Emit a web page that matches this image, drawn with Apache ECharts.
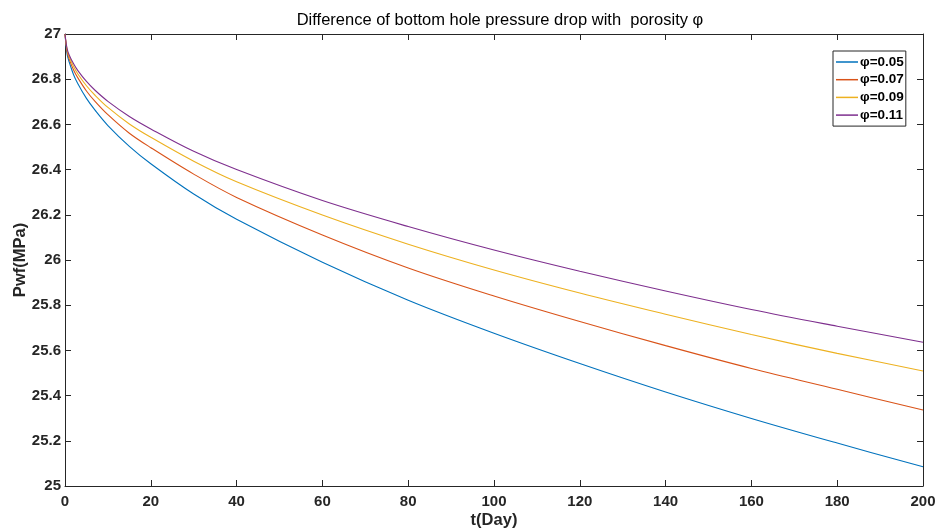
<!DOCTYPE html>
<html>
<head>
<meta charset="utf-8">
<script src="https://cdn.jsdelivr.net/npm/echarts@6/dist/echarts.min.js"></script>
<style>html,body{margin:0;padding:0;background:#fff}#c{width:937px;height:532px}</style>
</head>
<body>
<div id="c"></div>
<script>
const tDays = [0, 0.5, 1, 2, 3, 5, 7, 10, 15, 20, 30, 40, 60, 80, 100, 120, 140, 160, 180, 200];
const seriesNames = ['φ=0.05', 'φ=0.07', 'φ=0.09', 'φ=0.11'];
const phi005 = [27, 26.91, 26.875, 26.82, 26.78, 26.715, 26.663, 26.595, 26.503, 26.426, 26.292, 26.18, 25.99, 25.822, 25.676, 25.542, 25.416, 25.299, 25.19, 25.085];
const phi007 = [27, 26.921, 26.888, 26.841, 26.806, 26.748, 26.702, 26.643, 26.561, 26.497, 26.38, 26.277, 26.111, 25.965, 25.841, 25.728, 25.621, 25.520, 25.428, 25.336];
const phi009 = [27, 26.928, 26.898, 26.856, 26.823, 26.771, 26.729, 26.675, 26.602, 26.543, 26.437, 26.346, 26.199, 26.070, 25.956, 25.854, 25.760, 25.670, 25.587, 25.509];
const phi011 = [27, 26.934, 26.906, 26.868, 26.838, 26.79, 26.751, 26.702, 26.635, 26.58, 26.481, 26.40, 26.263, 26.148, 26.044, 25.950, 25.863, 25.781, 25.707, 25.636];
const xTicks = {min: 0, max: 200, interval: 20};
const yTicks = {min: 25, max: 27, interval: 0.2};
const colors = ['#0072BD', '#D95319', '#EDB120', '#7E2F8E'];

const font = '"Liberation Sans", Arial, Helvetica, sans-serif';
const axisCol = '#262626';
const allSeries = [phi005, phi007, phi009, phi011];

const chart = echarts.init(document.getElementById('c'), null, {renderer: 'canvas'});
const tickLbl = {color: axisCol, fontFamily: font, fontWeight: 'bold', fontSize: 15};
chart.setOption({
  animation: false,
  backgroundColor: '#fff',
  color: colors,
  title: {
    text: 'Difference of bottom hole pressure drop with  porosity φ',
    left: 495, top: 7, textAlign: 'center',
    textStyle: {fontFamily: font, fontSize: 16.5, fontWeight: 'normal', color: '#000'}
  },
  legend: {
    orient: 'vertical', left: 833, top: 51,
    data: seriesNames,
    icon: 'rect', itemWidth: 22, itemHeight: 1.5, itemGap: 3.7,
    backgroundColor: '#fff', borderColor: axisCol, borderWidth: 1,
    padding: [4, 2, 4, 3], borderRadius: 0,
    textStyle: {fontFamily: font, fontWeight: 'bold', fontSize: 13.5, color: '#000', lineHeight: 14, padding: [0,0,0,-3]}
  },
  grid: {left: 65, right: 14, top: 34, bottom: 46, containLabel: false, outerBoundsMode: 'none'},
  xAxis: [{
    type: 'value', min: xTicks.min, max: xTicks.max, interval: xTicks.interval,
    name: 't(Day)', nameLocation: 'middle', nameGap: 26, nameMoveOverlap: false,
    nameTextStyle: {fontFamily: font, fontWeight: 'bold', fontSize: 16.5, color: axisCol},
    axisLine: {show: true, onZero: false, lineStyle: {color: axisCol, width: 1}},
    axisTick: {show: true, inside: true, length: 6, lineStyle: {color: axisCol}},
    axisLabel: Object.assign({margin: 8}, tickLbl),
    splitLine: {show: false}
  }, {
    type: 'value', position: 'top', min: xTicks.min, max: xTicks.max, interval: xTicks.interval,
    axisLine: {show: true, onZero: false, lineStyle: {color: axisCol, width: 1}},
    axisTick: {show: true, inside: true, length: 6, lineStyle: {color: axisCol}},
    axisLabel: {show: false}, splitLine: {show: false}
  }],
  yAxis: [{
    type: 'value', min: yTicks.min, max: yTicks.max, interval: yTicks.interval,
    name: 'Pwf(MPa)', nameLocation: 'middle', nameGap: 36, nameRotate: 90, nameMoveOverlap: false,
    nameTextStyle: {fontFamily: font, fontWeight: 'bold', fontSize: 16.5, color: axisCol},
    axisLine: {show: true, onZero: false, lineStyle: {color: axisCol, width: 1}},
    axisTick: {show: true, inside: true, length: 6, lineStyle: {color: axisCol}},
    axisLabel: Object.assign({margin: 4, formatter: v => String(+v.toFixed(1))}, tickLbl),
    splitLine: {show: false}
  }, {
    type: 'value', position: 'right', min: yTicks.min, max: yTicks.max, interval: yTicks.interval,
    axisLine: {show: true, onZero: false, lineStyle: {color: axisCol, width: 1}},
    axisTick: {show: true, inside: true, length: 6, lineStyle: {color: axisCol}},
    axisLabel: {show: false}, splitLine: {show: false}
  }],
  series: allSeries.map((vals, i) => ({
    name: seriesNames[i], type: 'line', xAxisIndex: 0, yAxisIndex: 0,
    data: tDays.map((t, j) => [t, vals[j]]),
    showSymbol: false, symbol: 'none', smooth: 0.35,
    lineStyle: {width: 1.1, color: colors[i]}
  }))
});
</script>
</body>
</html>
